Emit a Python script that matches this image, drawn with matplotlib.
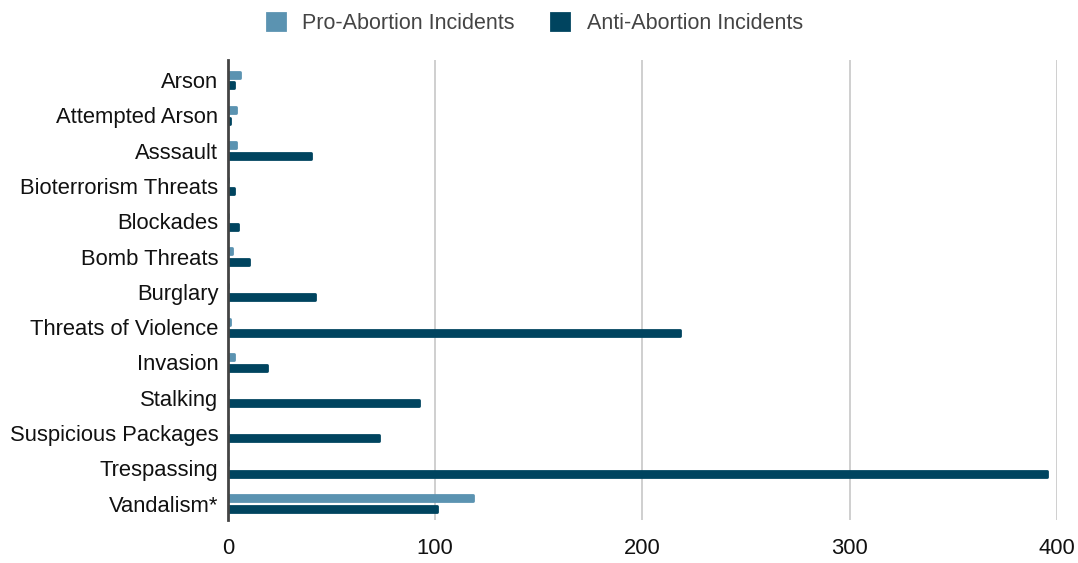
import numpy as np
import matplotlib.pyplot as plt

# incident categories, top to bottom
categories = ["Arson", "Attempted Arson", "Asssault", "Bioterrorism Threats", "Blockades",
              "Bomb Threats", "Burglary", "Threats of Violence", "Invasion", "Stalking",
              "Suspicious Packages", "Trespassing", "Vandalism*"]
pro_abortion = [6, 4, 4, 0, 0, 2, 0, 1, 3, 0, 0, 0, 118]
anti_abortion = [3, 1, 40, 3, 5, 10, 42, 218, 19, 92, 73, 395, 101]

pro_color = "#5B93B1"
anti_color = "#00445F"

plt.rcParams['font.family'] = ['Liberation Sans', 'DejaVu Sans']

fig = plt.figure(figsize=(10.78, 5.63), dpi=100)
ax = fig.add_axes([0.2115, 0.076, 0.769, 0.817])

y = np.arange(len(categories))
h = 0.17
off = 0.155
ax.barh(y - off, pro_abortion, height=h, color=pro_color, edgecolor=pro_color,
        linewidth=2, joinstyle='round', label="Pro-Abortion Incidents", zorder=3)
ax.barh(y + off, anti_abortion, height=h, color=anti_color, edgecolor=anti_color,
        linewidth=2, joinstyle='round', label="Anti-Abortion Incidents", zorder=3)

ax.set_yticks(y)
ax.set_yticklabels(categories)
ax.set_ylim(12.47, -0.56)
ax.set_xlim(0, 400)
ax.set_xticks([0, 100, 200, 300, 400])

for x in [100, 200, 300, 400]:
    ax.axvline(x, color="#cccccc", linewidth=1.3, zorder=0)

for s in ["top", "right", "bottom"]:
    ax.spines[s].set_visible(False)
ax.spines["left"].set_color("#444444")
ax.spines["left"].set_linewidth(2)
ax.spines["left"].set_zorder(4)

ax.tick_params(axis="y", length=0, pad=7, labelsize=15.8, labelcolor="#111111")
ax.tick_params(axis="x", length=0, pad=13, labelsize=15.8, labelcolor="#111111")

fig.legend(loc="upper center", bbox_to_anchor=(0.496, 1.012), ncol=2, frameon=False,
           fontsize=15.5, handlelength=0.85, handleheight=0.85, columnspacing=1.7,
           handletextpad=0.8, labelcolor="#444444")

plt.savefig("out.png", dpi=100)
